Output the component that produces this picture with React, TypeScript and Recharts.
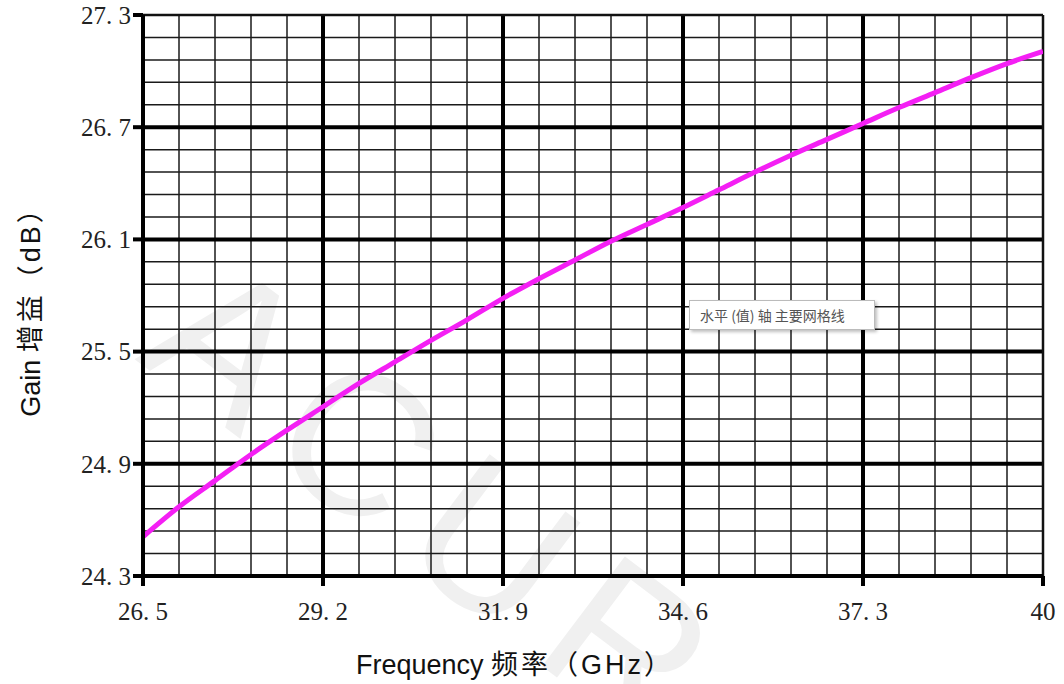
import React from 'react';
import { LineChart, Line, XAxis, YAxis, ReferenceLine } from 'recharts';

// frequency (GHz) and gain (dB)
const freq = [26.5, 27.04, 27.58, 28.12, 28.66, 29.2, 29.74, 30.28, 30.82, 31.36, 31.9, 32.44, 32.98,
  33.52, 34.06, 34.6, 35.14, 35.68, 36.22, 36.76, 37.3, 37.84, 38.38, 38.92, 39.46, 40];
const gain = [24.51, 24.67, 24.81, 24.95, 25.08, 25.205, 25.33, 25.445, 25.56, 25.67, 25.785, 25.89, 25.99,
  26.09, 26.18, 26.27, 26.365, 26.46, 26.55, 26.635, 26.72, 26.805, 26.885, 26.965, 27.04, 27.105];

const xTicks = [26.5, 29.2, 31.9, 34.6, 37.3, 40];
const yTicks = [24.3, 24.9, 25.5, 26.1, 26.7, 27.3];

// 5 minor divisions between major grid lines
const minorOf = (ticks: number[]) => {
  const out: number[] = [];
  for (let i = 0; i < ticks.length - 1; i++) {
    const step = (ticks[i + 1] - ticks[i]) / 5;
    for (let k = 1; k < 5; k++) out.push(+(ticks[i] + step * k).toFixed(3));
  }
  return out;
};
const xMinor = minorOf(xTicks);
const yMinor = minorOf(yTicks);

const data = freq.map((f, i) => ({ freq: f, gain: gain[i] }));

const fmt = (v: number) => (Number.isInteger(v) ? String(v) : v.toFixed(1).replace('.', '. '));

const tickStyle = { fill: '#222', fontSize: 25, fontFamily: '"Liberation Serif", "DejaVu Serif", serif' };
const titleFont = '"Liberation Sans", "Noto Sans CJK SC", sans-serif';

export default function App() {
  return (
    <div style={{ position: 'absolute', left: 0, top: 0, width: 1064, height: 684, background: '#fff', overflow: 'hidden' }}>
      {/* faint watermark behind the grid */}
      <div
        style={{
          position: 'absolute',
          left: 245,
          top: 212,
          fontFamily: titleFont,
          fontSize: 200,
          lineHeight: 1.15,
          letterSpacing: 24,
          color: '#f0f0f0',
          transform: 'rotate(37deg)',
          transformOrigin: '0 0',
          whiteSpace: 'nowrap',
        }}
      >
        ACUR
      </div>

      <LineChart width={1064} height={684} data={data} margin={{ top: 15, right: 21, bottom: 48, left: 63 }}>
        <XAxis
          dataKey="freq"
          type="number"
          domain={[26.5, 40]}
          ticks={xTicks}
          tickFormatter={fmt}
          tick={tickStyle}
          tickSize={10}
          tickMargin={16}
          height={60}
          axisLine={{ stroke: '#000', strokeWidth: 4 }}
          tickLine={{ stroke: '#000', strokeWidth: 4 }}
          allowDataOverflow
        />
        <YAxis
          type="number"
          domain={[24.3, 27.3]}
          ticks={yTicks}
          tickFormatter={fmt}
          tick={tickStyle}
          tickSize={10}
          tickMargin={2}
          width={80}
          axisLine={{ stroke: '#000', strokeWidth: 4 }}
          tickLine={{ stroke: '#000', strokeWidth: 4 }}
          allowDataOverflow
        />
        {xMinor.map((v) => (
          <ReferenceLine key={'xm' + v} x={v} stroke="#1a1a1a" strokeWidth={1.5} />
        ))}
        {yMinor.map((v) => (
          <ReferenceLine key={'ym' + v} y={v} stroke="#1a1a1a" strokeWidth={1.5} />
        ))}
        {xTicks.slice(1, -1).map((v) => (
          <ReferenceLine key={'xM' + v} x={v} stroke="#000" strokeWidth={4} />
        ))}
        {yTicks.slice(1, -1).map((v) => (
          <ReferenceLine key={'yM' + v} y={v} stroke="#000" strokeWidth={4} />
        ))}
        <ReferenceLine x={40} stroke="#111" strokeWidth={2.5} />
        <ReferenceLine y={27.3} stroke="#111" strokeWidth={2.5} />
        <Line
          dataKey="gain"
          type="monotone"
          stroke="#f41ff4"
          strokeWidth={5}
          dot={false}
          isAnimationActive={false}
        />
      </LineChart>

      <div
        style={{
          position: 'absolute',
          left: 28,
          top: 305,
          transform: 'translate(-50%, -50%) rotate(-90deg)',
          fontFamily: titleFont,
          fontSize: 27,
          color: '#111',
          whiteSpace: 'nowrap',
        }}
      >
        Gain <span style={{ letterSpacing: 3 }}>增益（dB）</span>
      </div>
      <div
        style={{
          position: 'absolute',
          left: 515,
          top: 662,
          transform: 'translate(-50%, -50%)',
          fontFamily: titleFont,
          fontSize: 27,
          color: '#111',
          whiteSpace: 'nowrap',
        }}
      >
        Frequency <span style={{ letterSpacing: 3 }}>频率（GHz）</span>
      </div>

      {/* Excel hover tooltip captured in the screenshot */}
      <div
        style={{
          position: 'absolute',
          left: 689,
          top: 300,
          width: 186,
          height: 30,
          boxSizing: 'border-box',
          background: '#fff',
          border: '1px solid #bbb',
          boxShadow: '2px 2px 3px rgba(0,0,0,0.25)',
          fontFamily: '"Noto Sans CJK SC", sans-serif',
          fontSize: 14,
          color: '#555',
          lineHeight: '28px',
          paddingLeft: 10,
          whiteSpace: 'nowrap',
        }}
      >
        水平 (值) 轴 主要网格线
      </div>
    </div>
  );
}
